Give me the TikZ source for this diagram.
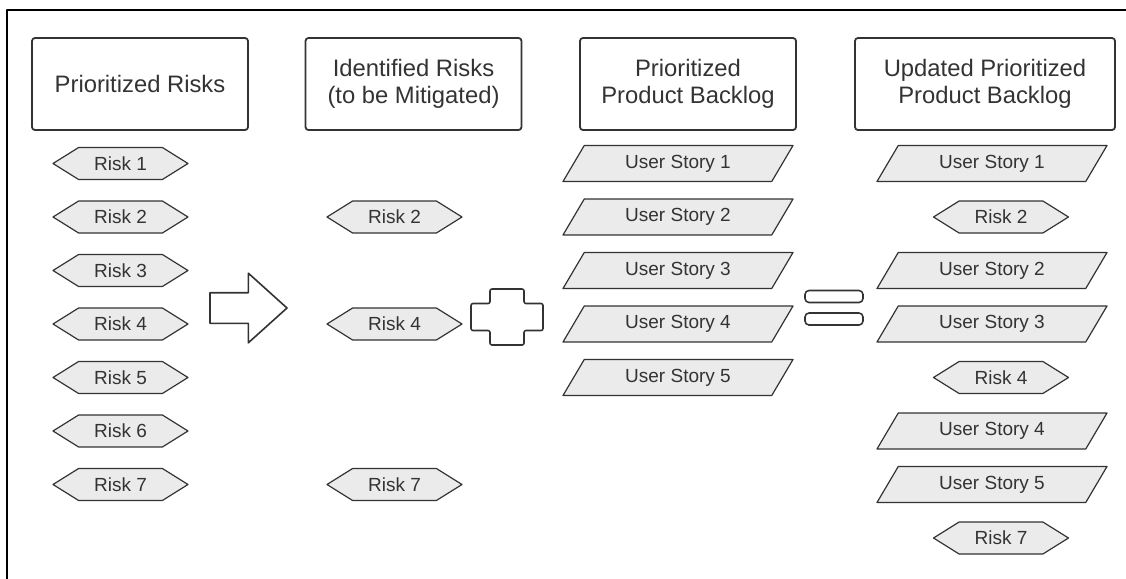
\documentclass[tikz,border=0pt]{standalone}
\usepackage{fontspec}
\setmainfont{Liberation Sans}
\usepackage{tikz}
\usetikzlibrary{shapes.symbols,shapes.geometric,shapes.arrows}
\definecolor{ebebeb}{rgb}{0.92,0.92,0.92}
\definecolor{sqsqsq}{rgb}{0.2,0.2,0.2}
\tikzset{
  headbox/.style={draw=sqsqsq,line width=0.9pt,rounded corners=1.5pt,minimum width=108pt,minimum height=46pt,align=center,text=sqsqsq,font=\fontsize{11.9}{13.5}\selectfont},
  riskhex/.style={signal,signal to=west and east,signal pointer angle=64,draw=sqsqsq,fill=ebebeb,line width=0.6pt,minimum width=67.5pt,minimum height=16pt,inner xsep=0pt,inner ysep=2.6pt,text=sqsqsq,font=\fontsize{9.5}{11}\selectfont},
  storybox/.style={trapezium,trapezium left angle=39,trapezium right angle=141,trapezium stretches body=true,draw=sqsqsq,fill=ebebeb,line width=0.6pt,minimum width=115pt,minimum height=18pt,inner sep=0pt,text=sqsqsq,font=\fontsize{9.5}{11}\selectfont},
  eqbar/.style={draw=sqsqsq,line width=0.8pt,rounded corners=2pt,minimum width=29pt,minimum height=6pt,inner sep=0pt}
}

\begin{document}
\begin{tikzpicture}[line cap=round,line join=round,x=0.5pt,y=-0.5pt]
\useasboundingbox (0,0) rectangle (1126,579);
\draw [line width=1pt] (7,579) -- (7,10) -- (1126,10);
% headers
\node [headbox] (pr) at (140,84) {Prioritized Risks};
\node [headbox] (ir) at (413.5,84) {Identified Risks\\(to be Mitigated)};
\node [headbox] (pb) at (688,84) {Prioritized\\Product Backlog};
\node [headbox,minimum width=130pt] (upb) at (985,84) {Updated Prioritized\\Product Backlog};
% prioritized risks
\node [riskhex] (r1) at (120.5,163.5) {Risk 1};
\node [riskhex] (r2) at (120.5,217) {Risk 2};
\node [riskhex] (r3) at (120.5,270.5) {Risk 3};
\node [riskhex] (r4) at (120.5,324) {Risk 4};
\node [riskhex] (r5) at (120.5,377.5) {Risk 5};
\node [riskhex] (r6) at (120.5,431) {Risk 6};
\node [riskhex] (r7) at (120.5,484.5) {Risk 7};
\node [single arrow,draw=sqsqsq,line width=0.8pt,minimum height=38.5pt,minimum width=34pt,single arrow head extend=9.75pt,single arrow tip angle=84,inner xsep=0pt,inner ysep=7.25pt] (then) at (240,308) {};
% identified risks
\node [riskhex] (ir2) at (394.5,217) {Risk 2};
\node [riskhex] (ir4) at (394.5,324) {Risk 4};
\node [riskhex] (ir7) at (394.5,484.5) {Risk 7};
\draw [line width=0.8pt,color=sqsqsq,rounded corners=1pt,shift={(507,317)}] (-36,-13.5) -- (-17,-13.5) -- (-17,-28) -- (17,-28) -- (17,-13.5) -- (36,-13.5) -- (36,13.5) -- (17,13.5) -- (17,28) -- (-17,28) -- (-17,13.5) -- (-36,13.5) -- cycle;
% product backlog
\node [storybox] (us1) at (678,163.5) {User Story 1};
\node [storybox] (us2) at (678,217) {User Story 2};
\node [storybox] (us3) at (678,270.5) {User Story 3};
\node [storybox] (us4) at (678,324) {User Story 4};
\node [storybox] (us5) at (678,377.5) {User Story 5};
\node [eqbar] (eqa) at (834,296.5) {};
\node [eqbar] (eqb) at (834,319) {};
% updated backlog
\node [storybox] (nus1) at (992,163.5) {User Story 1};
\node [riskhex] (nr2) at (1001,217) {Risk 2};
\node [storybox] (nus2) at (992,270.5) {User Story 2};
\node [storybox] (nus3) at (992,324) {User Story 3};
\node [riskhex] (nr4) at (1001,377.5) {Risk 4};
\node [storybox] (nus4) at (992,431) {User Story 4};
\node [storybox] (nus5) at (992,484.5) {User Story 5};
\node [riskhex] (nr7) at (1001,538) {Risk 7};
\end{tikzpicture}
\end{document}
